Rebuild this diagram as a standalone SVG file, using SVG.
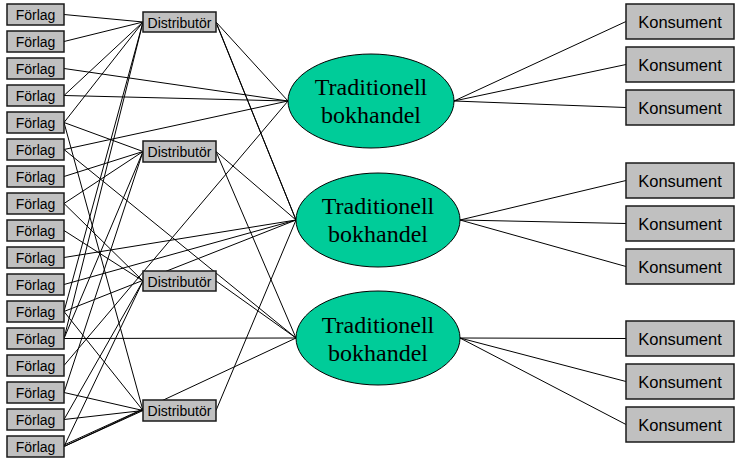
<svg xmlns="http://www.w3.org/2000/svg" width="737" height="463" viewBox="0 0 737 463">
  <style>
    .box { fill: #c0c0c0; stroke: #1a1a1a; stroke-width: 1.5; }
    .shop { fill: #00cc99; stroke: #000; stroke-width: 1; }
    .lbl { font-family: "Liberation Sans", Arial, sans-serif; font-size: 14px; fill: #000; text-anchor: middle; }
    .klbl { font-family: "Liberation Sans", Arial, sans-serif; font-size: 16.5px; fill: #000; text-anchor: middle; }
    .slbl { font-family: "Liberation Serif", "Times New Roman", serif; font-size: 24px; fill: #000; text-anchor: middle; }
    #connectors line { stroke: #000; stroke-width: 1; }
  </style>
  <rect width="737" height="463" fill="#fff"/>

  <!-- connectors -->
  <g id="connectors">
    <!-- publishers to distributors -->
    <line x1="64" y1="14.5" x2="143" y2="22"/>
    <line x1="64" y1="41.5" x2="143" y2="22"/>
    <line x1="64" y1="95.5" x2="143" y2="22"/>
    <line x1="64" y1="122.5" x2="143" y2="22"/>
    <line x1="64" y1="311.5" x2="143" y2="22"/>
    <line x1="64" y1="338.5" x2="143" y2="22"/>
    <line x1="64" y1="122.5" x2="143" y2="151.5"/>
    <line x1="64" y1="176.5" x2="143" y2="151.5"/>
    <line x1="64" y1="203.5" x2="143" y2="151.5"/>
    <line x1="64" y1="338.5" x2="143" y2="151.5"/>
    <line x1="64" y1="392.5" x2="143" y2="151.5"/>
    <line x1="64" y1="203.5" x2="143" y2="281"/>
    <line x1="64" y1="230.5" x2="143" y2="281"/>
    <line x1="64" y1="419.5" x2="143" y2="281"/>
    <line x1="64" y1="446.5" x2="143" y2="281"/>
    <line x1="64" y1="122.5" x2="143" y2="410.5"/>
    <line x1="64" y1="311.5" x2="143" y2="410.5"/>
    <line x1="64" y1="392.5" x2="143" y2="410.5"/>
    <line x1="64" y1="419.5" x2="143" y2="410.5"/>
    <line x1="64" y1="446.5" x2="143" y2="410.5"/>
    <line x1="64" y1="445" x2="143" y2="409"/>
    <!-- publishers straight to bookshops -->
    <line x1="64" y1="68.5" x2="288" y2="101"/>
    <line x1="64" y1="95.5" x2="288" y2="101"/>
    <line x1="64" y1="149.5" x2="288" y2="101"/>
    <line x1="64" y1="365.5" x2="288" y2="101"/>
    <line x1="64" y1="257.5" x2="296" y2="220"/>
    <line x1="64" y1="284.5" x2="296" y2="220"/>
    <line x1="64" y1="311.5" x2="296" y2="220"/>
    <line x1="64" y1="149.5" x2="296" y2="338"/>
    <line x1="64" y1="338.5" x2="296" y2="338"/>
    <line x1="64" y1="446.5" x2="296" y2="338"/>
    <!-- distributors to bookshops -->
    <line x1="216" y1="22" x2="288" y2="101"/>
    <line x1="216" y1="22" x2="296" y2="220"/>
    <line x1="217" y1="25" x2="296" y2="220"/>
    <line x1="216" y1="151.5" x2="296" y2="220"/>
    <line x1="216" y1="151.5" x2="296" y2="338"/>
    <line x1="216" y1="281" x2="296" y2="338"/>
    <line x1="216" y1="410.5" x2="296" y2="220"/>
    <!-- bookshops to consumers -->
    <line x1="454" y1="101" x2="626" y2="21.5"/>
    <line x1="454" y1="101" x2="626" y2="64.5"/>
    <line x1="454" y1="101" x2="626" y2="107.5"/>
    <line x1="460" y1="220" x2="626" y2="180.5"/>
    <line x1="460" y1="220" x2="626" y2="223.5"/>
    <line x1="460" y1="220" x2="626" y2="266.5"/>
    <line x1="460" y1="338" x2="626" y2="338.5"/>
    <line x1="460" y1="338" x2="626" y2="381.5"/>
    <line x1="460" y1="338" x2="626" y2="424.5"/>
  </g>

  <!-- publishers -->
  <g id="forlag-1"><rect class="box" x="7" y="4" width="57" height="21"/><text class="lbl" x="35.5" y="19.5">Förlag</text></g>
  <g id="forlag-2"><rect class="box" x="7" y="31" width="57" height="21"/><text class="lbl" x="35.5" y="46.5">Förlag</text></g>
  <g id="forlag-3"><rect class="box" x="7" y="58" width="57" height="21"/><text class="lbl" x="35.5" y="73.5">Förlag</text></g>
  <g id="forlag-4"><rect class="box" x="7" y="85" width="57" height="21"/><text class="lbl" x="35.5" y="100.5">Förlag</text></g>
  <g id="forlag-5"><rect class="box" x="7" y="112" width="57" height="21"/><text class="lbl" x="35.5" y="127.5">Förlag</text></g>
  <g id="forlag-6"><rect class="box" x="7" y="139" width="57" height="21"/><text class="lbl" x="35.5" y="154.5">Förlag</text></g>
  <g id="forlag-7"><rect class="box" x="7" y="166" width="57" height="21"/><text class="lbl" x="35.5" y="181.5">Förlag</text></g>
  <g id="forlag-8"><rect class="box" x="7" y="193" width="57" height="21"/><text class="lbl" x="35.5" y="208.5">Förlag</text></g>
  <g id="forlag-9"><rect class="box" x="7" y="220" width="57" height="21"/><text class="lbl" x="35.5" y="235.5">Förlag</text></g>
  <g id="forlag-10"><rect class="box" x="7" y="247" width="57" height="21"/><text class="lbl" x="35.5" y="262.5">Förlag</text></g>
  <g id="forlag-11"><rect class="box" x="7" y="274" width="57" height="21"/><text class="lbl" x="35.5" y="289.5">Förlag</text></g>
  <g id="forlag-12"><rect class="box" x="7" y="301" width="57" height="21"/><text class="lbl" x="35.5" y="316.5">Förlag</text></g>
  <g id="forlag-13"><rect class="box" x="7" y="328" width="57" height="21"/><text class="lbl" x="35.5" y="343.5">Förlag</text></g>
  <g id="forlag-14"><rect class="box" x="7" y="355" width="57" height="21"/><text class="lbl" x="35.5" y="370.5">Förlag</text></g>
  <g id="forlag-15"><rect class="box" x="7" y="382" width="57" height="21"/><text class="lbl" x="35.5" y="397.5">Förlag</text></g>
  <g id="forlag-16"><rect class="box" x="7" y="409" width="57" height="21"/><text class="lbl" x="35.5" y="424.5">Förlag</text></g>
  <g id="forlag-17"><rect class="box" x="7" y="436" width="57" height="21"/><text class="lbl" x="35.5" y="451.5">Förlag</text></g>

  <!-- distributors -->
  <g id="distributor-1"><rect class="box" x="143" y="12" width="73" height="20"/><text class="lbl" x="179.5" y="27.5">Distributör</text></g>
  <g id="distributor-2"><rect class="box" x="143" y="141" width="73" height="21"/><text class="lbl" x="179.5" y="157">Distributör</text></g>
  <g id="distributor-3"><rect class="box" x="143" y="271" width="73" height="20"/><text class="lbl" x="179.5" y="286.5">Distributör</text></g>
  <g id="distributor-4"><rect class="box" x="143" y="400" width="73" height="21"/><text class="lbl" x="179.5" y="416">Distributör</text></g>

  <!-- bookshops -->
  <g id="bokhandel-1"><ellipse class="shop" cx="371" cy="101" rx="83" ry="47"/><text class="slbl" x="371" y="95">Traditionell</text><text class="slbl" x="371" y="123">bokhandel</text></g>
  <g id="bokhandel-2"><ellipse class="shop" cx="378" cy="220" rx="82" ry="47"/><text class="slbl" x="378" y="214">Traditionell</text><text class="slbl" x="378" y="242">bokhandel</text></g>
  <g id="bokhandel-3"><ellipse class="shop" cx="378" cy="338" rx="82" ry="47"/><text class="slbl" x="378" y="333">Traditionell</text><text class="slbl" x="378" y="361">bokhandel</text></g>

  <!-- consumers -->
  <g id="konsument-1"><rect class="box" x="626" y="4" width="108" height="35"/><text class="klbl" x="680" y="28">Konsument</text></g>
  <g id="konsument-2"><rect class="box" x="626" y="47" width="108" height="35"/><text class="klbl" x="680" y="71">Konsument</text></g>
  <g id="konsument-3"><rect class="box" x="626" y="90" width="108" height="35"/><text class="klbl" x="680" y="114">Konsument</text></g>
  <g id="konsument-4"><rect class="box" x="626" y="163" width="108" height="35"/><text class="klbl" x="680" y="187">Konsument</text></g>
  <g id="konsument-5"><rect class="box" x="626" y="206" width="108" height="35"/><text class="klbl" x="680" y="230">Konsument</text></g>
  <g id="konsument-6"><rect class="box" x="626" y="249" width="108" height="35"/><text class="klbl" x="680" y="273">Konsument</text></g>
  <g id="konsument-7"><rect class="box" x="626" y="321" width="108" height="35"/><text class="klbl" x="680" y="345">Konsument</text></g>
  <g id="konsument-8"><rect class="box" x="626" y="364" width="108" height="35"/><text class="klbl" x="680" y="388">Konsument</text></g>
  <g id="konsument-9"><rect class="box" x="626" y="407" width="108" height="35"/><text class="klbl" x="680" y="431">Konsument</text></g>
</svg>
